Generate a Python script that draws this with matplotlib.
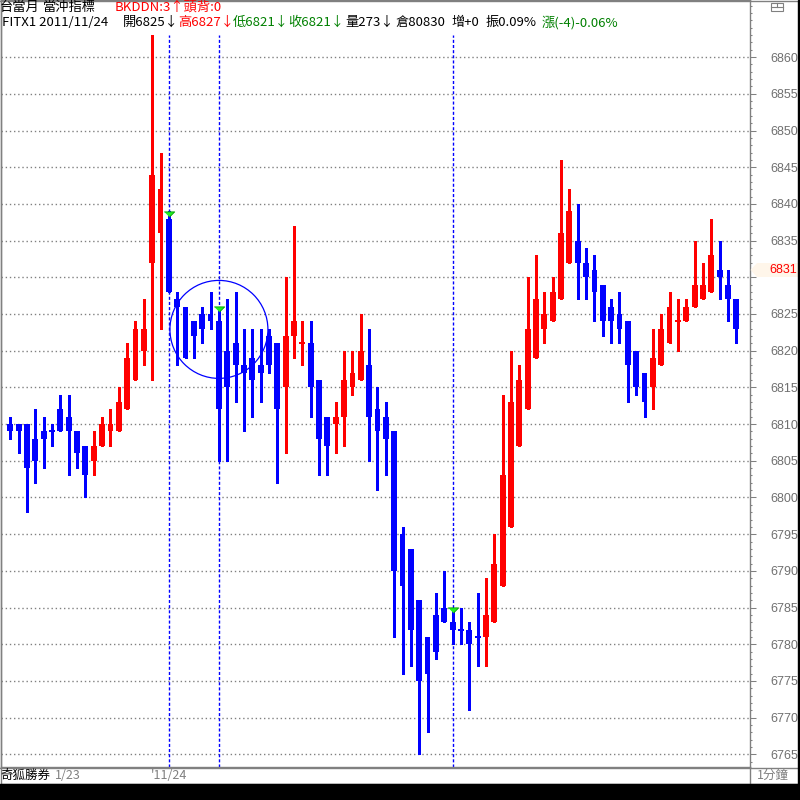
#!/usr/bin/python3

# plot.py
#
# Re-draw the one minute candle chart for FITX1 with the signal markers.
import matplotlib
matplotlib.use('Agg')
import matplotlib.pyplot as plt
from matplotlib.lines import Line2D
from matplotlib.patches import Ellipse, Polygon, Rectangle

# One entry per one minute bar
opens = [6810, 6810, 6810, 6808, 6809, 6809, 6812, 6811, 6809, 6807,
         6805, 6807, 6809, 6809, 6812, 6816, 6820, 6832, 6836, 6838,
         6827, 6826, 6824, 6825, 6825, 6824, 6820, 6821, 6818, 6819,
         6818, 6822, 6821, 6815, 6822, 6821, 6821, 6816, 6811, 6810,
         6811, 6815, 6816, 6818, 6812, 6811, 6809, 6795, 6793, 6786,
         6781, 6784, 6785, 6783, 6782, 6782, 6781, 6781, 6783, 6788,
         6796, 6807, 6812, 6819, 6823, 6824, 6827, 6832, 6835, 6832,
         6831, 6829, 6826, 6825, 6824, 6820, 6817, 6815, 6818, 6821,
         6824, 6824, 6826, 6827, 6828, 6831, 6829, 6827]
highs = [6811, 6810, 6810, 6812, 6811, 6810, 6814, 6814, 6809, 6807,
         6809, 6811, 6812, 6815, 6821, 6824, 6827, 6863, 6847, 6839,
         6828, 6826, 6824, 6826, 6828, 6826, 6827, 6828, 6823, 6823,
         6823, 6823, 6821, 6830, 6837, 6824, 6824, 6816, 6811, 6813,
         6820, 6820, 6825, 6823, 6815, 6813, 6809, 6796, 6793, 6786,
         6781, 6787, 6790, 6785, 6785, 6783, 6787, 6789, 6795, 6814,
         6820, 6818, 6830, 6833, 6828, 6830, 6846, 6842, 6840, 6834,
         6833, 6829, 6827, 6828, 6824, 6820, 6817, 6823, 6825, 6828,
         6827, 6827, 6835, 6832, 6838, 6835, 6831, 6827]
lows = [6808, 6806, 6798, 6802, 6804, 6807, 6809, 6803, 6804, 6800,
        6803, 6807, 6807, 6809, 6812, 6816, 6818, 6816, 6823, 6828,
        6818, 6819, 6819, 6821, 6823, 6805, 6805, 6813, 6809, 6811,
        6813, 6817, 6802, 6806, 6819, 6818, 6811, 6803, 6803, 6806,
        6807, 6814, 6816, 6805, 6801, 6803, 6781, 6776, 6777, 6765,
        6768, 6778, 6783, 6780, 6780, 6771, 6777, 6777, 6783, 6788,
        6796, 6807, 6812, 6819, 6821, 6824, 6827, 6832, 6827, 6827,
        6824, 6822, 6821, 6821, 6813, 6814, 6811, 6812, 6818, 6821,
        6820, 6824, 6826, 6827, 6828, 6827, 6824, 6821]
closes = [6809, 6809, 6804, 6805, 6808, 6809, 6809, 6809, 6806, 6803,
          6807, 6810, 6810, 6813, 6819, 6823, 6823, 6844, 6842, 6828,
          6826, 6819, 6822, 6823, 6824, 6812, 6815, 6818, 6817, 6816,
          6817, 6818, 6812, 6822, 6824, 6821, 6815, 6808, 6807, 6811,
          6816, 6817, 6820, 6811, 6809, 6808, 6790, 6788, 6782, 6775,
          6776, 6779, 6783, 6782, 6782, 6780, 6781, 6784, 6791, 6803,
          6813, 6816, 6823, 6827, 6825, 6828, 6836, 6839, 6832, 6830,
          6828, 6824, 6824, 6823, 6818, 6815, 6813, 6819, 6823, 6826,
          6824, 6826, 6829, 6829, 6833, 6830, 6827, 6823]

# Flat bars that the chart paints as up bars
flat_up = [35, 80]

# Bars where the indicator fired
signals = [19, 25, 53]

# Price axis and the current price flag
price_ticks = list(range(6765, 6861, 5))
last_price = 6831

# Header lines: (text, colour) runs
header_1 = [('台當月', 'black'), ('當沖指標', 'black'), ('BKDDN:3↑頭背:0', 'red')]
header_2 = [('FITX1 2011/11/24', 'black'), ('開6825↓', 'black'), ('高6827↓', 'red'),
            ('低6821↓', 'green'), ('收6821↓', 'green'), ('量273↓', 'black'),
            ('倉80830', 'black'), ('增+0', 'black'), ('振0.09%', 'black'),
            ('漲(-4)-0.06%', 'green')]
date_labels = [('奇狐勝券', 'black'), ('1/23', '#808080'), ("'11/24", '#808080')]
period_label = '1分鐘'

RED, BLUE, GREEN, GRAY = '#ff0000', '#0000ff', '#008000', '#808080'
CJK = ['Noto Sans CJK TC', 'DejaVu Sans']
W, H = 800, 800


# Pixel helpers, the original is a screen grab so layout is in pixels
def fx(px):
  return px / W

def fy(py):
  return 1 - py / H


fig = plt.figure(figsize=(8, 8), dpi=100)
fig.patch.set_facecolor('white')

# Main price panel, pixel 1..750 across and 0..767 down
ax = fig.add_axes([fx(1), fy(767), 749 / W, 767 / H])
ax.set_xlim(-1.114, 88.64)
ax.set_ylim(6763.28, 6867.78)
for spine in ax.spines.values():
  spine.set_color(GRAY)
  spine.set_linewidth(1)

# Dotted price grid
for price in price_ticks:
  ax.axhline(price, color=GRAY, lw=1, ls=(0, (1, 2)), zorder=0)

# Candles
min_body = 0.27
for i in range(len(opens)):
  o, h, l, c = opens[i], highs[i], lows[i], closes[i]
  up = c > o or (c == o and i in flat_up)
  color = RED if up else BLUE
  ax.vlines(i, l, h, color=color, lw=1.0, antialiased=False, zorder=2)
  bottom, height = min(o, c), abs(c - o)
  if height < min_body:
    bottom, height = o - min_body / 2, min_body
  ax.bar(i, height, bottom=bottom, width=0.7, color=color, lw=0,
         antialiased=False, zorder=3)

# Signal lines and arrows
for i in signals:
  ax.axvline(i, ymin=0, ymax=1 - 35 / 767, color=BLUE, lw=1, ls=(0, (2.2, 1.5)), zorder=1)
arrow = [(-1, 0.5), (1, 0.5), (0, -0.5)]
ax.plot(signals, [highs[i] - 0.34 for i in signals], ls='none', marker=arrow,
        markersize=7.5, markerfacecolor='#22ee22', markeredgecolor='#00a000',
        markeredgewidth=0.6, zorder=5)

# The circle round the second signal
ax.add_patch(Ellipse((25, 6822.9), 11.74, 13.35, fill=False, edgecolor=BLUE, lw=0.9, zorder=4))

# Price axis on the right
ax.set_xticks([])
ax.yaxis.tick_right()
ax.set_yticks(price_ticks)
ax.set_yticks(range(6764, 6868), minor=True)
ax.tick_params(axis='y', which='major', direction='out', length=4, width=0.75,
               color=GRAY, labelcolor='#707070', labelsize=9, pad=11)
ax.tick_params(axis='y', which='minor', direction='out', length=1.5, width=0.75, color=GRAY)
for label in ax.get_yticklabels():
  label.set_fontfamily('Liberation Sans')
  # the current price flag sits over this one
  if label.get_text() == '6830':
    label.set_visible(False)

# Frame pieces around the panel
fig.add_artist(Line2D([0, 1], [fy(0.5), fy(0.5)], color=GRAY, lw=1))
fig.add_artist(Line2D([0, 1], [fy(767.5), fy(767.5)], color=GRAY, lw=1))
fig.add_artist(Line2D([0, 1], [fy(783.5), fy(783.5)], color=GRAY, lw=1))
fig.add_artist(Line2D([fx(749.5), fx(749.5)], [fy(767), fy(784)], color=GRAY, lw=1))
fig.add_artist(Line2D([fx(0.5), fx(0.5)], [fy(0), fy(784)], color=GRAY, lw=1))
fig.add_artist(Rectangle((0, 0), 1, fy(784), color='black', zorder=6))
fig.add_artist(Rectangle((fx(798), 0), fx(2), 1, color='black', zorder=6))

# Small window icon in the corner
fig.add_artist(Rectangle((fx(771), fy(11)), fx(12), 8 / H, fill=False, edgecolor=GRAY, lw=0.8))
fig.add_artist(Line2D([fx(771), fx(783)], [fy(7), fy(7)], color=GRAY, lw=0.8))
fig.add_artist(Line2D([fx(777), fx(777)], [fy(3), fy(7)], color=GRAY, lw=0.8))

# Current price flag
flag_y = 270
fig.add_artist(Polygon([(fx(750.5), fy(flag_y)), (fx(757), fy(flag_y - 7)), (fx(798), fy(flag_y - 7)),
                        (fx(798), fy(flag_y + 7)), (fx(757), fy(flag_y + 7))],
                       closed=True, facecolor='#fff6ea', edgecolor='none', zorder=5))
fig.text(fx(769), fy(flag_y), str(last_price), color=RED, fontsize=9, family='Liberation Sans',
         va='center', ha='left', zorder=6)

# Header text
for (text, color), x in zip(header_1, [0, 43, 115]):
  fig.text(fx(x), fy(7), text, color=color, fontsize=9.5, family=CJK, va='center', ha='left')
for (text, color), x in zip(header_2, [2, 123, 178, 233, 288, 345, 395, 451, 486, 542]):
  fig.text(fx(x), fy(22.5), text, color=color, fontsize=9.5, family=CJK, va='center', ha='left')

# Bottom date strip
for (text, color), x in zip(date_labels, [0, 55, 151]):
  fig.text(fx(x), fy(775.5), text, color=color, fontsize=9, family=CJK, va='center', ha='left')
fig.text(fx(757), fy(775.5), period_label, color=GRAY, fontsize=9, family=CJK, va='center', ha='left')

plt.savefig('out.png', dpi=100)
plt.close()
